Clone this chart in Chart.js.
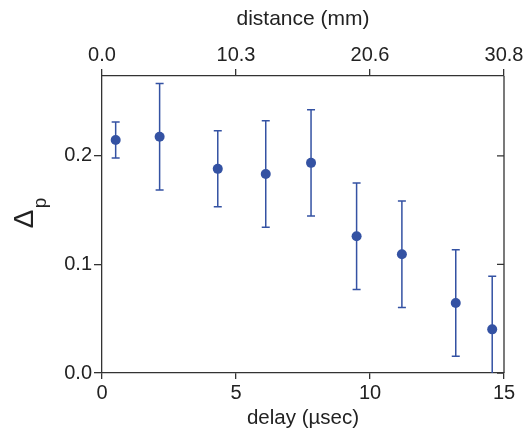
<!DOCTYPE html>
<html>
<head>
<meta charset="utf-8">
<script src="https://cdn.jsdelivr.net/npm/chart.js@4"></script>
<style>
  html, body { margin: 0; padding: 0; background: #fff; }
</style>
</head>
<body>
<canvas id="chart" width="526" height="430"></canvas>
<script>
// values
const delay = [0.51, 2.15, 4.32, 6.11, 7.80, 9.50, 11.19, 13.20, 14.56];
const deltaP = [0.2145, 0.2175, 0.188, 0.1832, 0.1935, 0.126, 0.1094, 0.0645, 0.0402];
const deltaErr = [0.0166, 0.049, 0.035, 0.049, 0.049, 0.049, 0.049, 0.049, 0.049];
const delayTicks = [0, 5, 10, 15];
const distanceTicks = ['0.0', '10.3', '20.6', '30.8'];
const deltaTicks = [0.0, 0.1, 0.2];

const BLUE = '#3452a3';
const AXIS = '#333333';
const TEXT = '#222222';
const FONT = '"Liberation Sans", Arial, sans-serif';

// error bars, drawn behind the markers
const errorBars = {
  id: 'errorBars',
  beforeDatasetsDraw(chart) {
    const { ctx, chartArea, scales } = chart;
    ctx.save();
    ctx.beginPath();
    ctx.rect(chartArea.left, chartArea.top, chartArea.right - chartArea.left, chartArea.bottom - chartArea.top);
    ctx.clip();
    ctx.strokeStyle = BLUE;
    ctx.lineWidth = 1.5;
    delay.forEach((d, i) => {
      const x = scales.x.getPixelForValue(d);
      const yHi = scales.y.getPixelForValue(deltaP[i] + deltaErr[i]);
      const yLo = scales.y.getPixelForValue(deltaP[i] - deltaErr[i]);
      ctx.beginPath();
      ctx.moveTo(x, yHi); ctx.lineTo(x, yLo);
      ctx.moveTo(x - 4, yHi); ctx.lineTo(x + 4, yHi);
      ctx.moveTo(x - 4, yLo); ctx.lineTo(x + 4, yLo);
      ctx.stroke();
    });
    ctx.restore();
  }
};

// right border with inward ticks, and the Δp title
const frame = {
  id: 'frame',
  afterDraw(chart) {
    const { ctx, chartArea, scales } = chart;
    ctx.save();
    ctx.strokeStyle = AXIS;
    ctx.lineWidth = 1.3;
    ctx.beginPath();
    ctx.moveTo(chartArea.right, chartArea.top);
    ctx.lineTo(chartArea.right, chartArea.bottom);
    deltaTicks.forEach(t => {
      const y = scales.y.getPixelForValue(t);
      ctx.moveTo(chartArea.right, y);
      ctx.lineTo(chartArea.right - 7, y);
    });
    ctx.stroke();

    // y title: Δ with subscript p, rotated
    const cy = (chartArea.top + chartArea.bottom) / 2 - 5.5;
    ctx.translate(33, cy);
    ctx.rotate(-Math.PI / 2);
    ctx.fillStyle = TEXT;
    ctx.textBaseline = 'alphabetic';
    ctx.font = '28px ' + FONT;
    const w = ctx.measureText('Δ').width;
    ctx.fillText('Δ', -w / 2, 0);
    ctx.font = '19px ' + FONT;
    ctx.fillText('p', w / 2 + 1.5, 13);
    ctx.restore();
  }
};

new Chart(document.getElementById('chart'), {
  type: 'scatter',
  data: {
    datasets: [{
      data: delay.map((d, i) => ({ x: d, y: deltaP[i] })),
      backgroundColor: BLUE,
      borderColor: BLUE,
      pointRadius: 5,
      pointHoverRadius: 5,
      borderWidth: 0
    }]
  },
  options: {
    responsive: false,
    devicePixelRatio: 1,
    animation: false,
    layout: { padding: { left: 0, right: 22, top: 0, bottom: 0 } },
    plugins: { legend: { display: false }, tooltip: { enabled: false } },
    scales: {
      x: {
        type: 'linear',
        position: 'bottom',
        min: 0, max: 15,
        afterBuildTicks: s => { s.ticks = delayTicks.map(v => ({ value: v })); },
        afterFit: s => { s.height = 57; },
        ticks: { font: { family: FONT, size: 20 }, color: TEXT, padding: 2, maxRotation: 0 },
        grid: { drawOnChartArea: false, tickLength: 6, color: AXIS, lineWidth: 1.3 },
        border: { color: AXIS, width: 1.3 },
        title: {
          display: true, text: 'delay (µsec)',
          font: { family: FONT, size: 20.5, lineHeight: 1 }, color: TEXT, padding: { top: 0, bottom: 1 }
        }
      },
      x2: {
        type: 'linear',
        position: 'top',
        min: 0, max: 15,
        afterBuildTicks: s => { s.ticks = delayTicks.map(v => ({ value: v })); },
        afterFit: s => { s.height = 76; },
        ticks: {
          font: { family: FONT, size: 20 }, color: TEXT, padding: 2, maxRotation: 0,
          callback: (v, i) => distanceTicks[i]
        },
        grid: { drawOnChartArea: false, tickLength: 7, color: AXIS, lineWidth: 1.3 },
        border: { color: AXIS, width: 1.3 },
        title: {
          display: true, text: 'distance (mm)',
          font: { family: FONT, size: 21 }, color: TEXT, padding: { top: 7, bottom: 0 }
        }
      },
      y: {
        type: 'linear',
        min: 0, max: 0.2735,
        afterBuildTicks: s => { s.ticks = deltaTicks.map(v => ({ value: v })); },
        afterFit: s => { s.width = 102; },
        ticks: { font: { family: FONT, size: 20 }, color: TEXT, padding: 2, callback: v => v.toFixed(1) },
        grid: { drawOnChartArea: false, tickLength: 8, color: AXIS, lineWidth: 1.3 },
        border: { color: AXIS, width: 1.3 }
      }
    }
  },
  plugins: [errorBars, frame]
});
</script>
</body>
</html>
